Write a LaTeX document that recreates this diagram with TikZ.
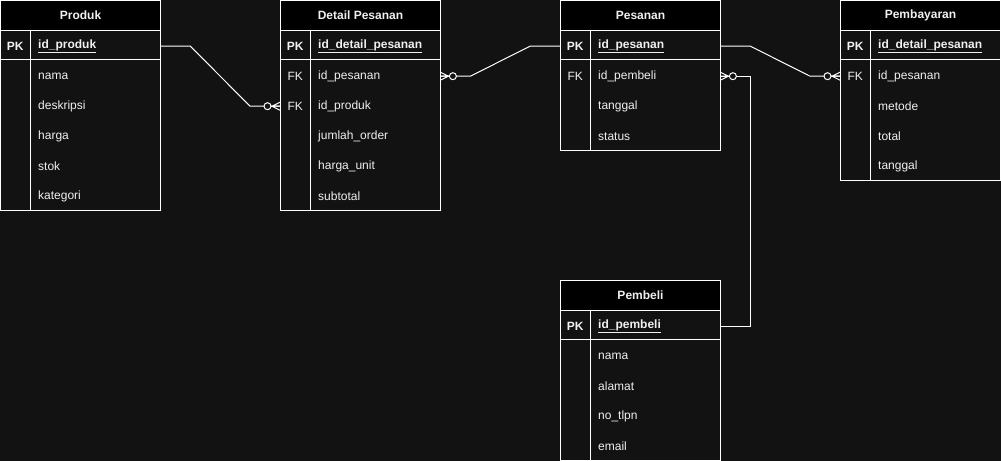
\documentclass[tikz,border=0pt]{standalone}
\usepackage{fontspec}
\setmainfont{Liberation Sans}
\usetikzlibrary{calc}
\definecolor{bg}{HTML}{121212}
\definecolor{hd}{HTML}{000000}
\definecolor{fg}{HTML}{F0F0F0}
\tikzset{
  tbl/.style={draw=white, line width=1bp, fill=bg, minimum width=160bp, anchor=north west, inner sep=0pt},
  hdr/.style={draw=white, line width=1bp, fill=hd, text=fg, minimum width=160bp, minimum height=30bp, anchor=north west, inner sep=0pt, font=\fontsize{12bp}{14bp}\selectfont\bfseries},
  key/.style={text=fg, minimum width=30bp, minimum height=30bp, inner sep=0pt, anchor=north west, yshift=-1bp, font=\fontsize{12bp}{14bp}\selectfont\bfseries},
  fkey/.style={key, font=\fontsize{12bp}{14bp}\selectfont},
  fld/.style={text=fg, minimum width=130bp, minimum height=30bp, inner xsep=8bp, inner ysep=0pt, text width=114bp, align=left, anchor=north west, yshift=-1bp, font=\fontsize{12bp}{14bp}\selectfont},
  pkf/.style={fld, font=\fontsize{12bp}{14bp}\selectfont\bfseries},
  tline/.style={draw=white, line width=1bp},
  conn/.style={draw=white, line width=1bp},
}
\newcommand\zmany[2]{%
  \begin{scope}[shift={(#1)}, xscale=#2]
    \draw[conn] (-8,0) -- (0,-4) (-8,0) -- (0,4) (-16,0) -- (0,0);
    \draw[conn, fill=bg] (-12.5,0) circle[radius=3.5];
  \end{scope}}
\newcommand\ul[1]{\underline{#1}}
\begin{document}
\begin{tikzpicture}[x=1bp, y=-1bp]
\fill[bg] (0,0) rectangle (1001,461);
\useasboundingbox (0,0) rectangle (1001,461);

% ---------- Produk ----------
\node[tbl, minimum height=210bp] (produk) at (0,0) {};
\node[hdr] (produk-h) at (0,0) {Produk};
\draw[tline] (0,60) -- (160,60) (30,30) -- (30,210);
\node[key] (produk-k1) at (0,30) {PK};
\node[pkf] (produk-f1) at (30,30) {\ul{id\_produk}};
\node[fld] (produk-f2) at (30,60) {nama};
\node[fld] (produk-f3) at (30,90) {deskripsi};
\node[fld] (produk-f4) at (30,120) {harga};
\node[fld] (produk-f5) at (30,150) {stok};
\node[fld] (produk-f6) at (30,180) {kategori};

% ---------- Detail Pesanan ----------
\node[tbl, minimum height=210bp] (detail) at (280,0) {};
\node[hdr] (detail-h) at (280,0) {Detail Pesanan};
\draw[tline] (280,60) -- (440,60) (310,30) -- (310,210);
\node[key] (detail-k1) at (280,30) {PK};
\node[pkf] (detail-f1) at (310,30) {\ul{id\_detail\_pesanan}};
\node[fkey] (detail-k2) at (280,60) {FK};
\node[fld] (detail-f2) at (310,60) {id\_pesanan};
\node[fkey] (detail-k3) at (280,90) {FK};
\node[fld] (detail-f3) at (310,90) {id\_produk};
\node[fld] (detail-f4) at (310,120) {jumlah\_order};
\node[fld] (detail-f5) at (310,150) {harga\_unit};
\node[fld] (detail-f6) at (310,180) {subtotal};

% ---------- Pesanan ----------
\node[tbl, minimum height=150bp] (pesanan) at (560,0) {};
\node[hdr] (pesanan-h) at (560,0) {Pesanan};
\draw[tline] (560,60) -- (720,60) (590,30) -- (590,150);
\node[key] (pesanan-k1) at (560,30) {PK};
\node[pkf] (pesanan-f1) at (590,30) {\ul{id\_pesanan}};
\node[fkey] (pesanan-k2) at (560,60) {FK};
\node[fld] (pesanan-f2) at (590,60) {id\_pembeli};
\node[fld] (pesanan-f3) at (590,90) {tanggal};
\node[fld] (pesanan-f4) at (590,120) {status};

% ---------- Pembayaran ----------
\node[tbl, minimum height=180bp] (bayar) at (840,0) {};
\node[hdr] (bayar-h) at (840,0) {Pembayaran};
\draw[tline] (840,60) -- (1000,60) (870,30) -- (870,180);
\node[key] (bayar-k1) at (840,30) {PK};
\node[pkf] (bayar-f1) at (870,30) {\ul{id\_detail\_pesanan}};
\node[fkey] (bayar-k2) at (840,60) {FK};
\node[fld] (bayar-f2) at (870,60) {id\_pesanan};
\node[fld] (bayar-f3) at (870,90) {metode};
\node[fld] (bayar-f4) at (870,120) {total};
\node[fld] (bayar-f5) at (870,150) {tanggal};

% ---------- Pembeli ----------
\node[tbl, minimum height=180bp] (pembeli) at (560,280) {};
\node[hdr] (pembeli-h) at (560,280) {Pembeli};
\draw[tline] (560,340) -- (720,340) (590,310) -- (590,460);
\node[key] (pembeli-k1) at (560,310) {PK};
\node[pkf] (pembeli-f1) at (590,310) {\ul{id\_pembeli}};
\node[fld] (pembeli-f2) at (590,340) {nama};
\node[fld] (pembeli-f3) at (590,370) {alamat};
\node[fld] (pembeli-f4) at (590,400) {no\_tlpn};
\node[fld] (pembeli-f5) at (590,430) {email};

% ---------- Connectors ----------
\draw[conn] (produk-f1.east) -- ++(30,0) -- ($(detail-k3.west)+(-30,0)$) -- (detail-k3.west);
\zmany{detail-k3.west}{1}
\draw[conn] (detail-f2.east) -- ++(30,0) -- ($(pesanan-k1.west)+(-30,0)$) -- (pesanan-k1.west);
\zmany{detail-f2.east}{-1}
\draw[conn] (pesanan-f1.east) -- ++(30,0) -- ($(bayar-k2.west)+(-30,0)$) -- (bayar-k2.west);
\zmany{bayar-k2.west}{1}
\draw[conn] (pesanan-f2.east) -- ++(30,0) |- (pembeli-f1.east);
\zmany{pesanan-f2.east}{-1}
\end{tikzpicture}
\end{document}
